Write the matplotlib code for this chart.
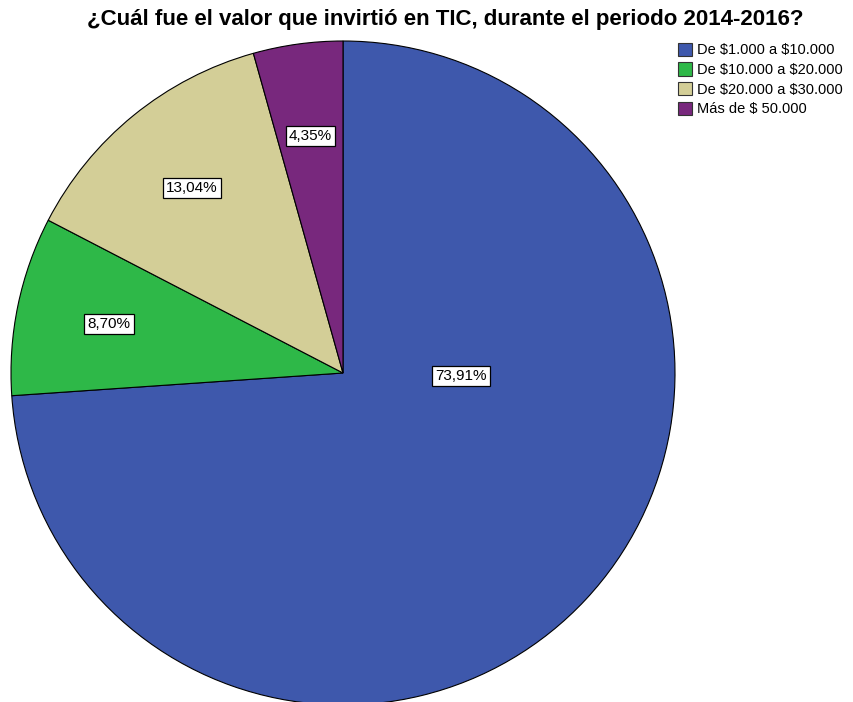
import matplotlib.pyplot as plt
from matplotlib.patches import Patch

plt.rcParams['font.family'] = ['Liberation Sans', 'DejaVu Sans']

# Data
categories = ['De \\$1.000 a \\$10.000', 'De \\$10.000 a \\$20.000',
              'De \\$20.000 a \\$30.000', 'Más de \\$ 50.000']
percentages = [73.91, 8.70, 13.04, 4.35]
colors = ['#3E58AC', '#2EB848', '#D3CE97', '#78287D']

fig = plt.figure(figsize=(8.54, 7.02), dpi=100)
ax = fig.add_axes([11 / 854, -3 / 702, 664 / 854, 664 / 702])

wedges, texts, autotexts = ax.pie(
    percentages, colors=colors, startangle=90, counterclock=False,
    radius=1.0, pctdistance=0.72,
    autopct=lambda p: f'{p:.2f}%'.replace('.', ','),
    wedgeprops=dict(edgecolor='black', linewidth=0.8),
    textprops=dict(fontsize=11))

for t in autotexts:
    t.set_bbox(dict(facecolor='white', edgecolor='black', boxstyle='square,pad=0.2', linewidth=0.9))

# SPSS places the big slice label near the centre line
autotexts[0].set_position((0.355, -0.01))

ax.set_xlim(-1, 1)
ax.set_ylim(-1, 1)
ax.axis('off')

fig.text(445 / 854, 1 - 20 / 702, '¿Cuál fue el valor que invirtió en TIC, durante el periodo 2014-2016?',
         ha='center', va='center', fontsize=16, fontweight='bold')

handles = [Patch(facecolor=c, edgecolor='#333333', linewidth=0.8) for c in colors]
fig.legend(handles, categories, loc='upper left', bbox_to_anchor=(672 / 854, 1 - 37 / 702),
           frameon=False, fontsize=10.5, handlelength=1.0, handleheight=1.0,
           handletextpad=0.3, labelspacing=0.35, borderaxespad=0)

fig.savefig('out.png', dpi=100)
